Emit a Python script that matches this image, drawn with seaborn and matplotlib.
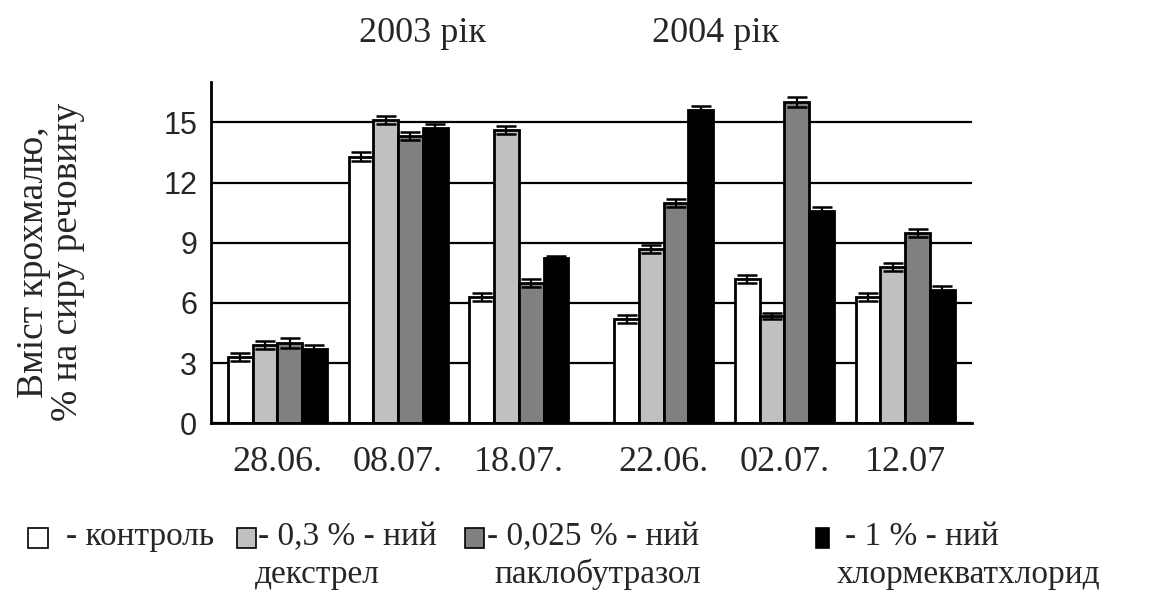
import numpy as np
import pandas as pd
import seaborn as sns
import matplotlib.pyplot as plt
from matplotlib.patches import Rectangle

# Sampling dates (2003: first three, 2004: last three)
dates = ["28.06.", "08.07.", "18.07.", "22.06.", "02.07.", "12.07"]

# Starch content, % of dry matter, per treatment
control     = [3.3, 13.3, 6.3, 5.2, 7.2, 6.3]
dextrel     = [3.9, 15.1, 14.6, 8.7, 5.35, 7.8]
paclobutr   = [4.0, 14.3, 7.0, 11.0, 16.0, 9.5]
chlormequat = [3.7, 14.7, 8.25, 15.6, 10.6, 6.65]

# Error margins
control_err     = [0.2, 0.2, 0.2, 0.2, 0.2, 0.2]
dextrel_err     = [0.2, 0.2, 0.2, 0.2, 0.15, 0.2]
paclobutr_err   = [0.25, 0.2, 0.2, 0.2, 0.25, 0.2]
chlormequat_err = [0.2, 0.2, 0.1, 0.2, 0.2, 0.2]

treatments = ["контроль", "декстрел", "паклобутразол", "хлормекватхлорид"]
colors = ["#ffffff", "#c0c0c0", "#808080", "#000000"]

# Layout: group centres on the axis, with a wider gap between the two years
group_pos = [0.0, 1.0, 2.0, 3.2, 4.2, 5.2]

series = [control, dextrel, paclobutr, chlormequat]
errors = [control_err, dextrel_err, paclobutr_err, chlormequat_err]

rows = []
for name, vals, errs in zip(treatments, series, errors):
    for d, p, v, e in zip(dates, group_pos, vals, errs):
        rows.append({"date": d, "pos": p, "treatment": name, "value": v, "err": e})
df = pd.DataFrame(rows)

sns.set_style("white")
plt.rcParams["font.family"] = ["Liberation Serif", "DejaVu Serif"]

fig = plt.figure(figsize=(11.72, 5.92), dpi=100)
ax = fig.add_axes([0.180, 0.285, 0.649, 0.576])

sns.barplot(data=df, x="pos", y="value", hue="treatment", hue_order=treatments,
            palette=colors, native_scale=True, width=0.82, errorbar=None,
            edgecolor="black", linewidth=2.0, legend=False, ax=ax, zorder=2)

# Error bars on each bar, taken from the bar containers (one per treatment)
for cont, name in zip(ax.containers, treatments):
    sub = df[df["treatment"] == name].sort_values("pos")
    bars = sorted(cont.patches, key=lambda b: b.get_x())
    xs = [b.get_x() + b.get_width() / 2 for b in bars]
    ax.errorbar(xs, sub["value"].values, yerr=sub["err"].values, fmt="none",
                ecolor="black", elinewidth=1.6, capsize=7, capthick=1.8, zorder=3)

ax.set_ylim(0, 17)
ax.set_xlim(-0.55, 5.75)
ax.set_yticks([0, 3, 6, 9, 12, 15])
ax.set_xticks(group_pos)
ax.set_xticklabels(dates, fontsize=26, family=["Liberation Serif"])
for lab in ax.get_yticklabels():
    lab.set_fontfamily(["Liberation Sans"])
    lab.set_fontsize(22)
ax.tick_params(axis="x", length=0, pad=16)
ax.tick_params(axis="y", direction="out", length=7, width=1.6, color="black", pad=3)

ax.yaxis.grid(True, color="black", linewidth=1.6)
ax.xaxis.grid(False)
ax.set_axisbelow(True)
for s in ["top", "right"]:
    ax.spines[s].set_visible(False)
for s in ["left", "bottom"]:
    ax.spines[s].set_color("black")
    ax.spines[s].set_linewidth(2.0)

ax.set_xlabel("")
ax.set_ylabel("Вміст крохмалю,\n% на сиру речовину", fontsize=27,
              linespacing=1.0, labelpad=56, y=0.472)

# Year headers
fig.text(422 / 1172, 1 - 42 / 592, "2003 рік", fontsize=26, ha="center", va="baseline")
fig.text(716 / 1172, 1 - 42 / 592, "2004 рік", fontsize=26, ha="center", va="baseline")

# Legend drawn beneath the axes
W, H = 1172, 592
def box(x0, x1, color):
    fig.patches.append(Rectangle((x0 / W, 1 - 548 / H), (x1 - x0) / W, 20 / H,
                                 transform=fig.transFigure, facecolor=color,
                                 edgecolor="black", linewidth=1.2))

box(28, 48, colors[0])
box(237, 256, colors[1])
box(465, 484, colors[2])
box(816, 829, colors[3])

row1 = 1 - 545 / H
row2 = 1 - 583 / H
fs = 24
fig.text(66 / W, row1, "- контроль", fontsize=fs, va="baseline")
fig.text(258 / W, row1, "- 0,3 % - ний", fontsize=fs, va="baseline")
fig.text(487 / W, row1, "- 0,025 % - ний", fontsize=fs, va="baseline")
fig.text(845 / W, row1, "- 1 % - ний", fontsize=fs, va="baseline")
fig.text(255 / W, row2, "декстрел", fontsize=fs, va="baseline")
fig.text(494 / W, row2, "паклобутразол", fontsize=fs, va="baseline")
fig.text(837 / W, row2, "хлормекватхлорид", fontsize=fs, va="baseline")

fig.savefig("out.png", dpi=100)
